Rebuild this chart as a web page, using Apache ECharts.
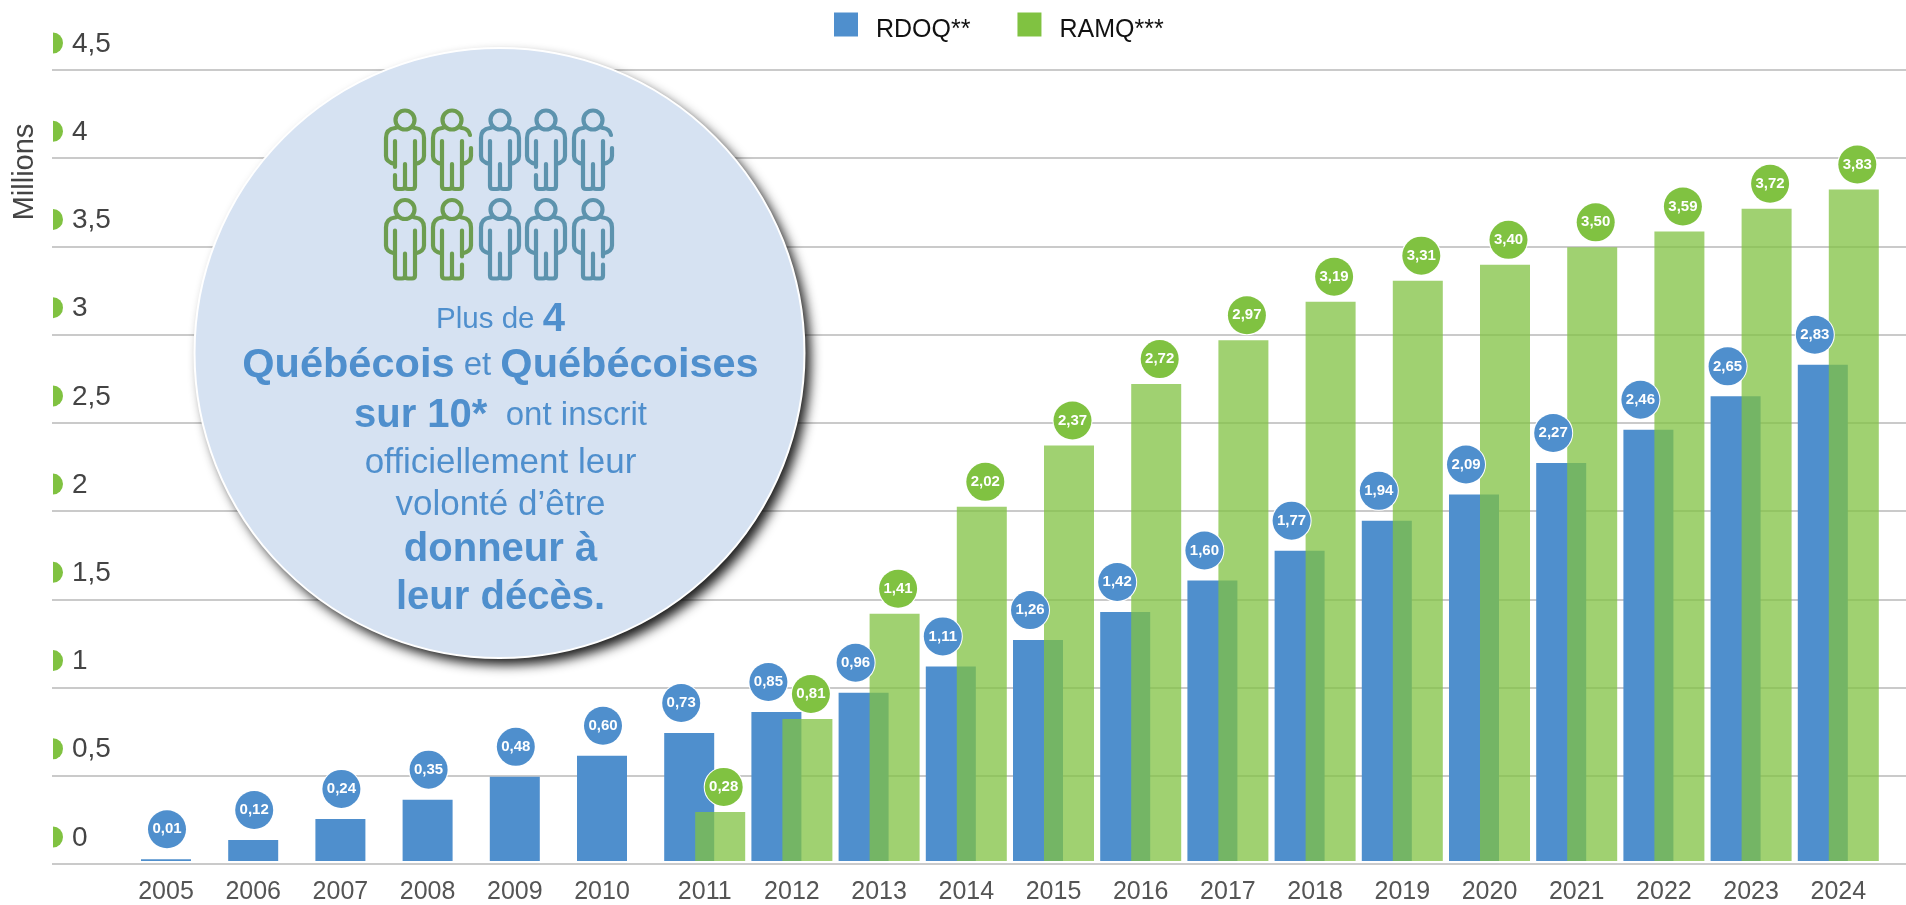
<!DOCTYPE html>
<html>
<head>
<meta charset="utf-8">
<style>html,body{margin:0;padding:0;background:#fff;overflow:hidden}#c{width:1906px;height:905px}</style>
<script src="https://cdn.jsdelivr.net/npm/echarts@6/dist/echarts.min.js"></script>
</head>
<body>
<div id="c"></div>
<script>
const years = ['2005','2006','2007','2008','2009','2010','2011','2012','2013','2014','2015','2016','2017','2018','2019','2020','2021','2022','2023','2024'];
const rdoq = [0.01,0.12,0.24,0.35,0.48,0.60,0.73,0.85,0.96,1.11,1.26,1.42,1.60,1.77,1.94,2.09,2.27,2.46,2.65,2.83];
const ramq = [null,null,null,null,null,null,0.28,0.81,1.41,2.02,2.37,2.72,2.97,3.19,3.31,3.40,3.50,3.59,3.72,3.83];
const yTicks = [0,0.5,1,1.5,2,2.5,3,3.5,4,4.5];
const calloutLines = [
  '{p|Plus de }{b4|4}',
  '{q|Québécois}{r2| et }{q|Québécoises}',
  '{b|sur 10*}{r2|  ont inscrit}',
  '{r|officiellement leur}',
  '{r|volonté d’être}',
  '{b|donneur à}',
  '{b|leur décès.}'
];
const calloutY = [320,366,416,463,505,550,598];
const comma = v => String(v).replace('.', ',');
const two = v => v.toFixed(2).replace('.', ',');
const BLUE = '#4f8fcd', GREEN = '#80c241', GREEN_BAR = 'rgba(128,194,65,0.75)', FONT = '"Liberation Sans", Arial, sans-serif';

function personPath(gap) {
  const head = 'M9.5 12A9.5 9.5 0 1 1 -9.5 12A9.5 9.5 0 1 1 9.5 12Z';
  const leftLeg = gap === 'L' ? 'M-10 33L-10 59M-10 67L-10 78' : 'M-10 33L-10 78';
  const rightLeg = gap === 'R' ? 'M10 33L10 59M10 67L10 78' : 'M10 33L10 78';
  const feet = 'M-10 78Q-10 81 -7 81L-3 81Q0 81 0 78L0 56M0 78Q0 81 3 81L7 81Q10 81 10 78';
  const leftArm = 'M-7 19L-10 20Q-19 21 -19 30L-19 48Q-19 54 -10 56';
  const rightArm = gap === 'A'
    ? 'M7 19L10 20Q17 21 18 27M19 40L19 48Q19 54 10 56'
    : 'M7 19L10 20Q19 21 19 30L19 48Q19 54 10 56';
  return [head, leftLeg, rightLeg, feet, leftArm, rightArm].join('');
}
['', 'L', 'R', 'A'].forEach(g => {
  echarts.graphic.registerShape('person' + g, echarts.graphic.extendPath(personPath(g), {}));
});
const personCols = [405,452,500,546,593];
const personRows = [108,197.5];
const personGaps = [['L','A','','L','A'],['','R','','','R']];
const people = [];
personRows.forEach((py, r) => personCols.forEach((px, c) => {
  people.push({
    type: 'person' + personGaps[r][c], x: px, y: py, z: 102,
    style: { fill: null, stroke: c < 2 ? '#6d9d50' : '#5d93ae', lineWidth: 4.2, lineCap: 'round', lineJoin: 'round' }
  });
}));
const callouts = calloutLines.map((t, i) => ({
  type: 'text', x: 500.5, y: calloutY[i], z: 103,
  style: {
    text: t, align: 'center', verticalAlign: 'middle',
    rich: {
      p:  { fontFamily: 'Liberation Sans', fontSize: 29.5, fill: BLUE },
      r:  { fontFamily: 'Liberation Sans', fontSize: 35, fill: BLUE },
      r2: { fontFamily: 'Liberation Sans', fontSize: 33, fill: BLUE },
      b:  { fontFamily: 'Liberation Sans', fontSize: 40, fontWeight: 'bold', fill: BLUE },
      q:  { fontFamily: 'Liberation Sans', fontSize: 41.5, fontWeight: 'bold', fill: BLUE },
      b4: { fontFamily: 'Liberation Sans', fontSize: 40, fontWeight: 'bold', fill: BLUE }
    }
  }
}));

const chart = echarts.init(document.getElementById('c'));
chart.setOption({
  animation: false,
  backgroundColor: '#fff',
  textStyle: { fontFamily: FONT },
  legend: {
    left: 829, top: 7.5, itemWidth: 24, itemHeight: 24, itemGap: 47,
    formatter: n => '{t|' + n + '}',
    textStyle: {
      rich: { t: { fontSize: 25, color: '#111', verticalAlign: 'top', padding: [12, 0, 0, 13], fontFamily: FONT } }
    },
    data: [
      { name: 'RDOQ**', icon: 'rect', itemStyle: { color: BLUE } },
      { name: 'RAMQ***', icon: 'rect', itemStyle: { color: GREEN } }
    ]
  },
  grid: [
    { left: 52, right: 0, top: 70, height: 794 },
    { left: 137.9, width: 1744, top: 72, height: 792 }
  ],
  xAxis: [
    { gridIndex: 0, type: 'value', min: 0, max: 1, show: false },
    {
      gridIndex: 1, type: 'category', data: years,
      axisLine: { show: false }, axisTick: { show: false },
      axisLabel: {
        interval: 0, margin: 19,
        formatter: (v, i) => (i < 6 ? '{e|' + v + '}' : '{l|' + v + '}'),
        rich: {
          e: { fontSize: 25, color: '#555', padding: [0, 31, 0, 0], fontFamily: FONT },
          l: { fontSize: 25, color: '#555', fontFamily: FONT }
        }
      }
    }
  ],
  yAxis: [
    {
      gridIndex: 0, type: 'value', min: 0, max: 4.5, interval: 0.5,
      axisLine: { show: false }, axisTick: { show: false },
      splitLine: { show: true, lineStyle: { color: '#b8b8b8', width: 1.5 } },
      axisLabel: {
        inside: true, margin: 20, align: 'left', verticalAlign: 'bottom',
        fontSize: 28, color: '#444', lineHeight: 28, padding: [0, 0, 12, 0],
        fontFamily: FONT, formatter: v => comma(v)
      }
    },
    { gridIndex: 1, type: 'value', min: 0, max: 4.5, interval: 0.5, show: false }
  ],
  series: [
    {
      type: 'scatter', xAxisIndex: 0, yAxisIndex: 0, silent: true, clip: false,
      symbol: 'path://M0 0A10 10.5 0 0 1 0 21Z', symbolSize: [10, 21], symbolKeepAspect: false,
      symbolOffset: [6, -27], itemStyle: { color: GREEN, opacity: 1 },
      data: yTicks.map(v => [0, v]), legendHoverLink: false, tooltip: { show: false }
    },
    {
      name: 'RDOQ**', type: 'bar', xAxisIndex: 1, yAxisIndex: 1, barWidth: 50, barGap: '-38%',
      itemStyle: { color: BLUE },
      data: rdoq.map((v, i) => ({ value: v, label: { offset: [i < 6 ? 1 : -8, 0] } })),
      label: {
        show: true, position: 'top', distance: 30, width: 38, height: 38, lineHeight: 38,
        borderRadius: 19, backgroundColor: BLUE, borderColor: '#fff', borderWidth: 1,
        color: '#fff', fontSize: 15, fontWeight: 'bold', align: 'center', verticalAlign: 'middle',
        fontFamily: FONT, formatter: p => two(p.value)
      }
    },
    {
      name: 'RAMQ***', type: 'bar', xAxisIndex: 1, yAxisIndex: 1, barWidth: 50,
      itemStyle: { color: GREEN_BAR },
      data: ramq.map(v => (v === null ? null : { value: v, label: { offset: [3.5, 0] } })),
      label: {
        show: true, position: 'top', distance: 25, width: 38, height: 38, lineHeight: 38,
        borderRadius: 19, backgroundColor: GREEN, borderColor: '#fff', borderWidth: 1,
        color: '#fff', fontSize: 15, fontWeight: 'bold', align: 'center', verticalAlign: 'middle',
        fontFamily: FONT, formatter: p => two(p.value)
      }
    }
  ],
  graphic: { elements: [
    {
      type: 'text', x: 25, y: 172, rotation: Math.PI / 2, z: 100,
      style: { text: 'Millions', font: '29px ' + FONT, fill: '#444', align: 'center', verticalAlign: 'middle' }
    },
    {
      type: 'circle', z: 101, shape: { cx: 499.5, cy: 353, r: 305 },
      style: { fill: '#d6e2f2', shadowBlur: 12, shadowColor: 'rgba(0,0,0,0.9)', shadowOffsetX: 6, shadowOffsetY: 7 }
    },
    {
      type: 'circle', z: 101, shape: { cx: 499.5, cy: 353, r: 305 },
      style: { fill: null, stroke: '#fff', lineWidth: 2 }
    },
    ...people, ...callouts
  ] }
});
</script>
</body>
</html>
